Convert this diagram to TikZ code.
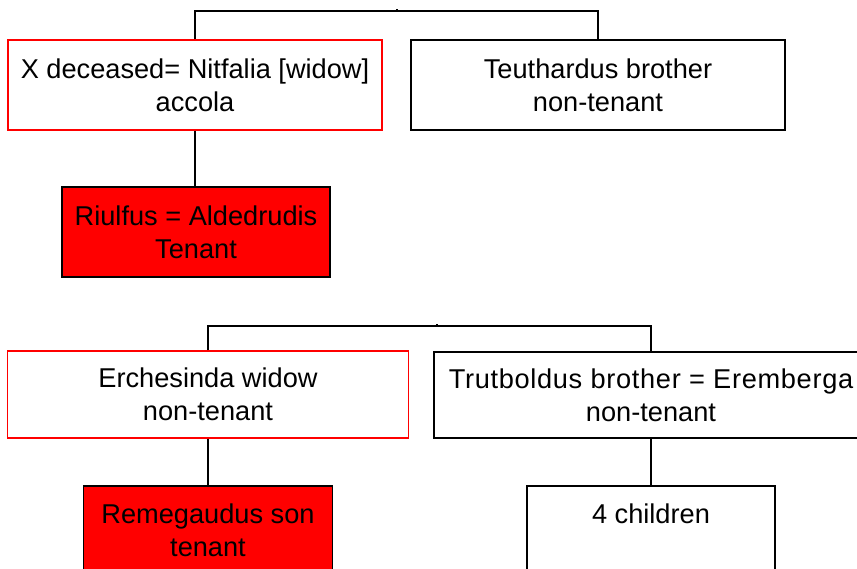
\documentclass[tikz,border=0pt]{standalone}
\usepackage{fontspec}
\setmainfont{Liberation Sans}
\definecolor{boxred}{RGB}{255,0,0}
\begin{document}
\begin{tikzpicture}[x=1pt,y=-1pt,
  box/.style={draw=black, line width=1.4pt, fill=white, inner sep=0pt, align=center,
    rectangle, font=\fontsize{27.2}{33}\selectfont},
  redline/.style={box, draw=boxred},
  redfill/.style={box, fill=boxred},
  link/.style={draw=black, line width=1.4pt}]
\useasboundingbox (0,0) rectangle (857,569);
\clip (0,0) rectangle (857,569);
% first family
\node[redline, minimum width=374pt, minimum height=90pt] (b1) at (195,85) {X deceased= Nitfalia [widow]\\accola};
\node[box, minimum width=374pt, minimum height=90pt] (b2) at (598,85) {Teuthardus brother\\non-tenant};
\node[redfill, minimum width=268pt, minimum height=90pt] (b3) at (196,232) {Riulfus = Aldedrudis\\Tenant};
\coordinate (j1) at (397,11);
\draw[link] (b1.north) |- (j1) -| (b2.north);
\draw[link] (j1) -- ++(0,-2);
\draw[link] (b1.south) -- (b1.south |- b3.north);
% second family
\node[redline, minimum width=401pt, minimum height=87pt] (b4) at (208,394.5) {Erchesinda widow\\non-tenant};
\node[box, minimum width=434pt, minimum height=86pt] (b5) at (651,395) {{\addfontfeature{LetterSpace=2.5}Trutboldus brother = Eremberga}\\non-tenant};
\node[redfill, minimum width=249pt, minimum height=88pt] (b6) at (208,530) {Remegaudus son\\tenant};
\node[box, minimum width=248pt, minimum height=88pt] (b7) at (651,530) {4 children\\~};
\coordinate (j2) at (437,326);
\draw[link] (b4.north) |- (j2) -| (b5.north);
\draw[link] (j2) -- ++(0,-2);
\draw[link] (b4.south) -- (b6.north);
\draw[link] (b5.south) -- (b7.north);
\end{tikzpicture}
\end{document}
